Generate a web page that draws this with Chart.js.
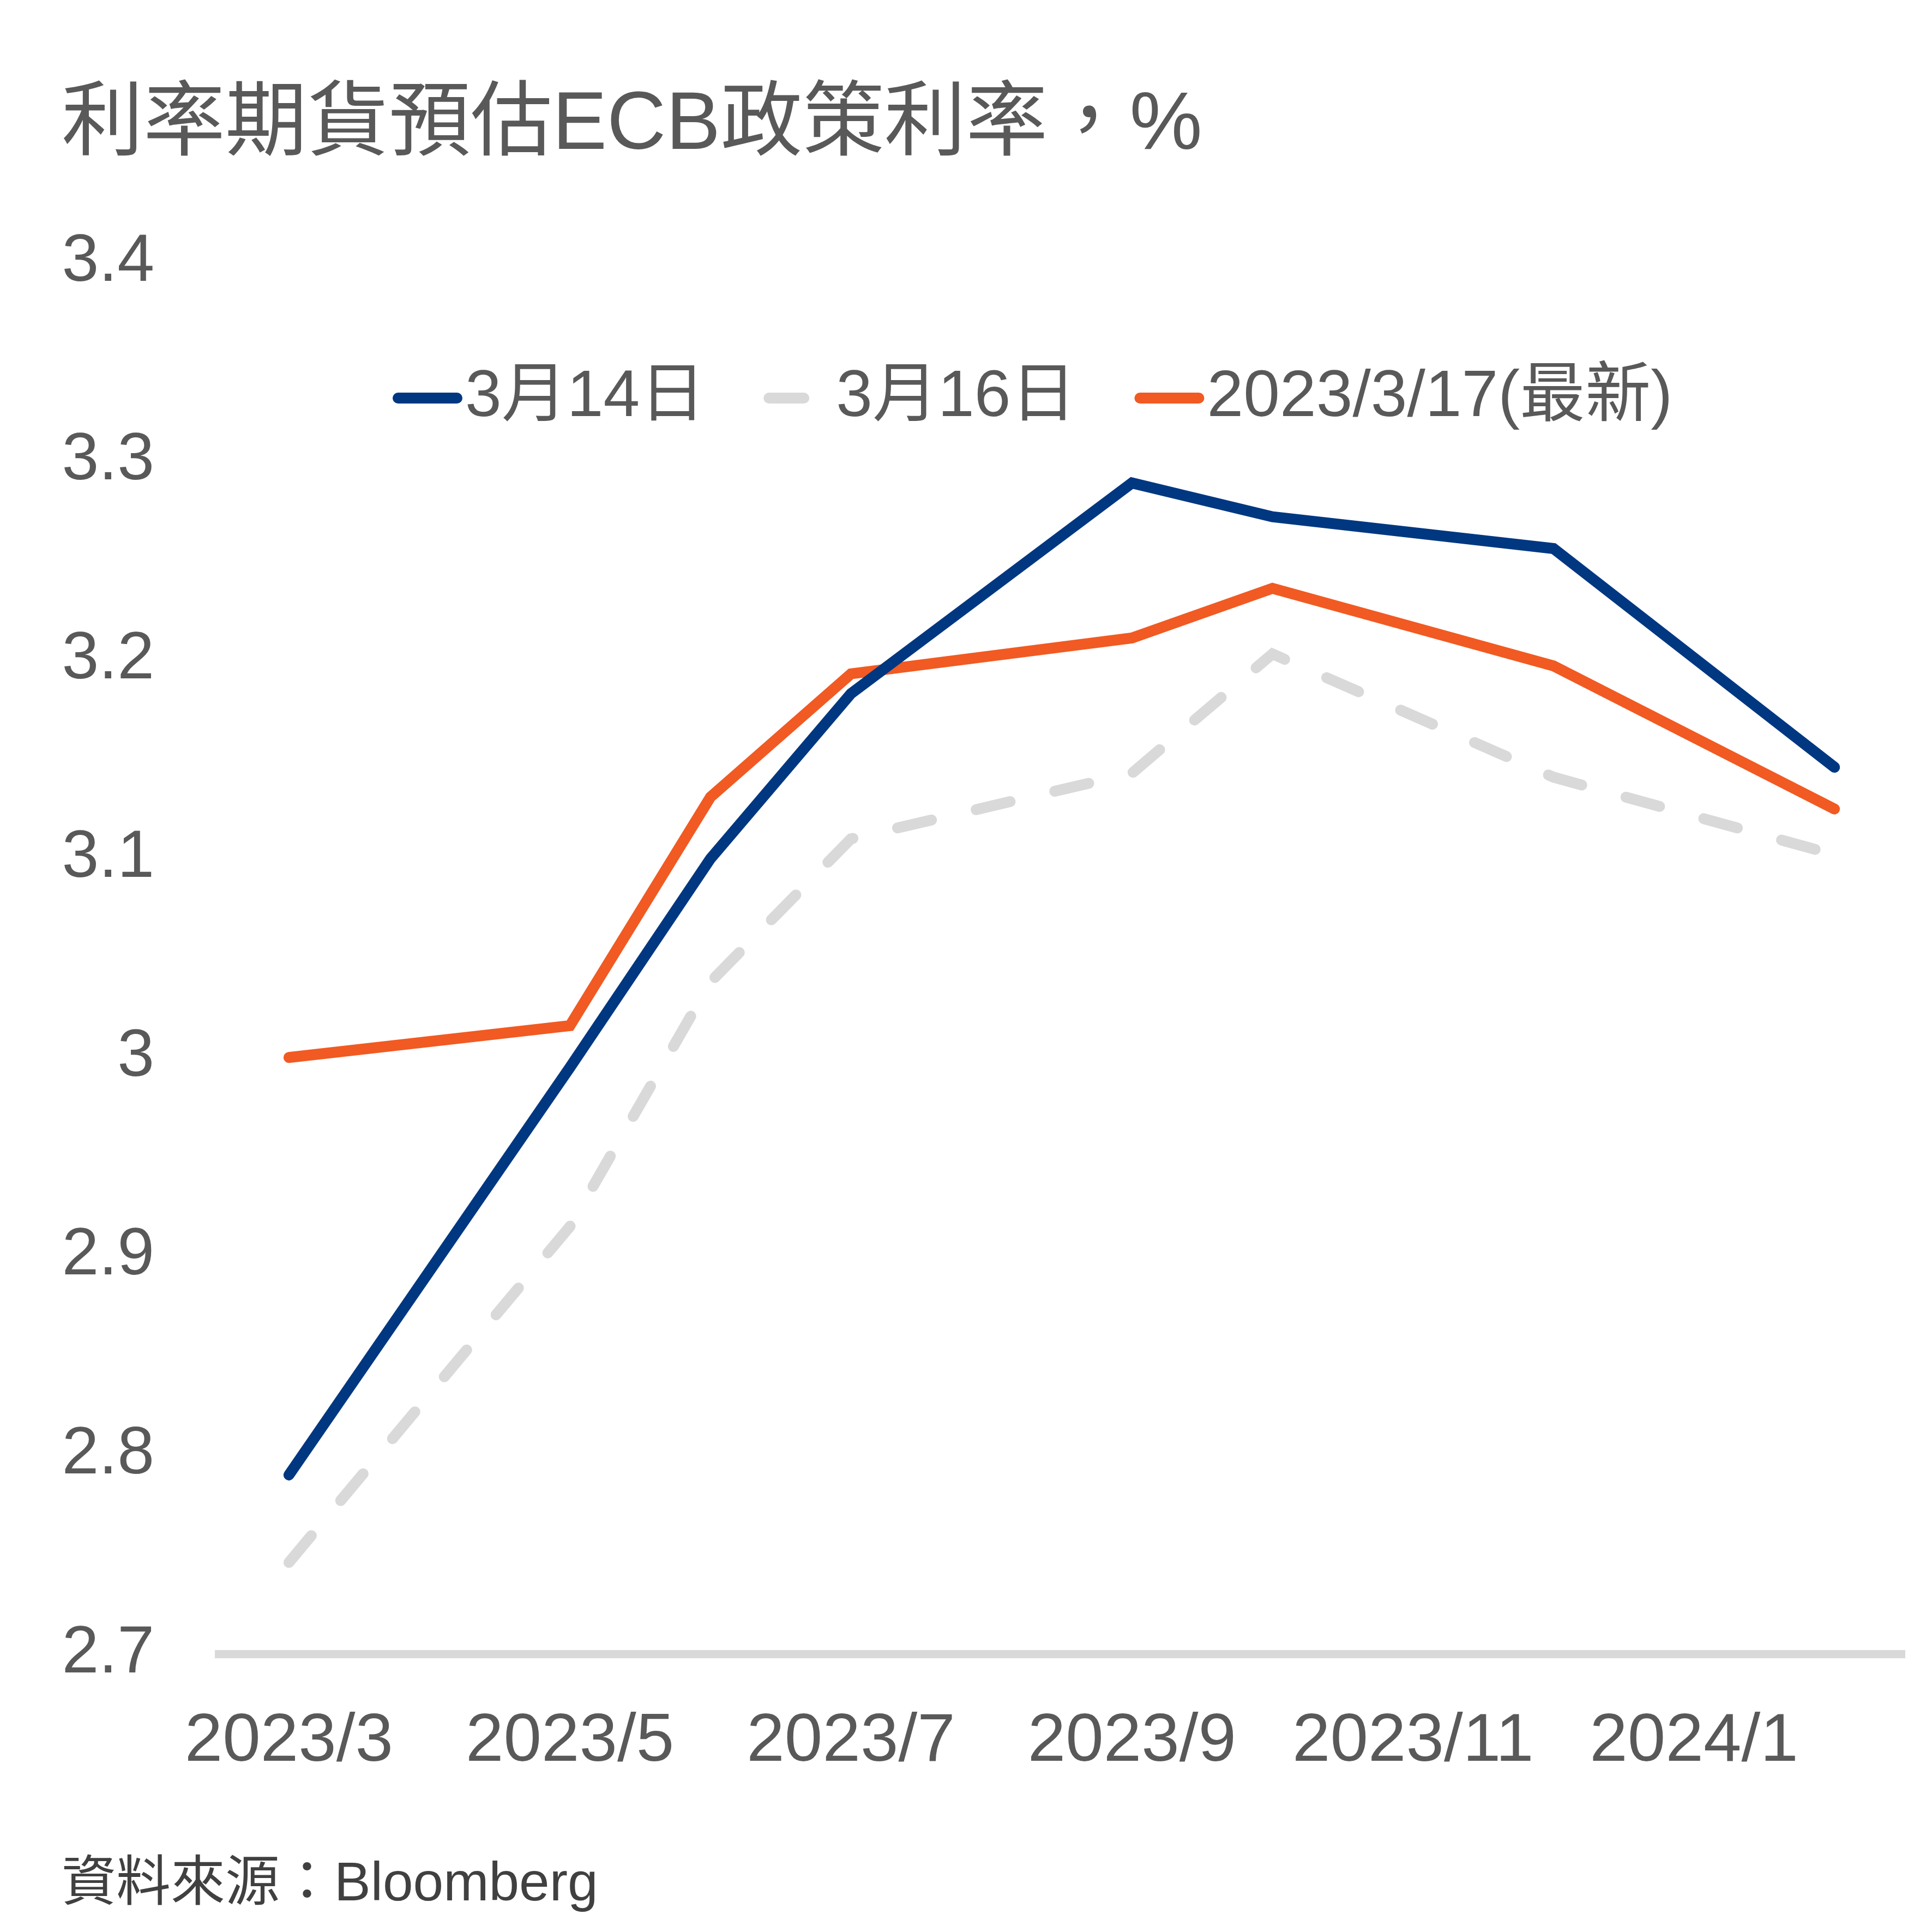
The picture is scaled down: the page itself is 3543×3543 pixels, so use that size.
<!DOCTYPE html>
<html><head><meta charset="utf-8">
<script src="https://cdn.jsdelivr.net/npm/chart.js@4.4.1/dist/chart.umd.min.js"></script>
<style>html,body{margin:0;padding:0;background:#fff;} #wrap{width:3543px;height:3543px;position:relative;}</style>
</head><body><div id="wrap"><canvas id="c"></canvas></div>
<script>
// ---- data ----
const months = ['2023/3','2023/4','2023/5','2023/6','2023/7','2023/8','2023/9','2023/10','2023/11','2023/12','2024/1','2024/2'];
const seriesNames = ['3月14日','3月16日','2023/3/17(最新)'];
const mar14 = [2.790, null, 2.995, 3.100, 3.183, null, 3.289, 3.272, null, 3.256, null, 3.146];
const mar16 = [2.746, null, 2.915, 3.038, 3.110, null, 3.143, 3.203, null, 3.141, null, 3.102];
const mar17 = [3.000, null, 3.016, 3.131, 3.193, null, 3.211, 3.236, null, 3.197, null, 3.125];
const titleText = '利率期貨預估ECB政策利率，%';
const sourceText = '資料來源：Bloomberg';

// ---- styles ----
const FONT = '"Liberation Sans", "Noto Sans CJK TC", sans-serif';
const TXT = '#595959';
const BLUE = '#003781', GRAY = '#D9D9D9', ORANGE = '#F15A22';
Chart.defaults.font.family = FONT;
Chart.defaults.color = TXT;

// legend drawn inside the plot area, in one row
const inlineLegend = {
  id: 'inlineLegend',
  afterDraw(chart) {
    const {ctx, chartArea} = chart;
    const fs = 120, lw = 20, lineLen = 108, dashLen = 64;
    ctx.save();
    ctx.font = 'normal ' + fs + 'px ' + FONT;
    ctx.textBaseline = 'middle';
    ctx.textAlign = 'left';
    const y = chartArea.top + 249;
    let x = chartArea.left + 329;
    chart.data.datasets.forEach(ds => {
      ctx.strokeStyle = ds.borderColor;
      ctx.lineWidth = lw; ctx.lineCap = 'round'; ctx.setLineDash([]);
      ctx.beginPath(); ctx.moveTo(x, y); ctx.lineTo(x + (ds.borderDash ? dashLen : lineLen), y); ctx.stroke();
      const tx = x + lineLen + lw / 2 + 5;
      ctx.fillStyle = TXT;
      ctx.fillText(ds.label, tx, y);
      x = tx + ctx.measureText(ds.label).width + 107 + lw / 2;
    });
    ctx.restore();
  }
};

const common = {borderWidth: 20, pointRadius: 0, pointHoverRadius: 0, spanGaps: true,
  borderCapStyle: 'round', borderJoinStyle: 'miter', tension: 0, fill: false};

new Chart(document.getElementById('c'), {
  type: 'line',
  data: {
    labels: months,
    datasets: [
      Object.assign({label: seriesNames[0], data: mar14, borderColor: BLUE, backgroundColor: BLUE}, common),
      Object.assign({label: seriesNames[1], data: mar16, borderColor: GRAY, backgroundColor: GRAY, borderDash: [64, 84]}, common),
      Object.assign({label: seriesNames[2], data: mar17, borderColor: ORANGE, backgroundColor: ORANGE}, common)
    ]
  },
  plugins: [inlineLegend],
  options: {
    responsive: true, maintainAspectRatio: false, animation: false, devicePixelRatio: 1,
    layout: {padding: {left: 113, right: 50, top: 0, bottom: 0}},
    plugins: {
      tooltip: {enabled: false},
      legend: {display: false},
      title: {display: true, text: titleText, align: 'start', color: TXT,
        font: {size: 150, weight: 'normal', lineHeight: 1.2}, padding: {top: 142, bottom: 159}},
      subtitle: {display: true, text: sourceText, position: 'bottom', align: 'start', color: '#404040',
        font: {size: 100, weight: 'normal', lineHeight: 1.2}, padding: {top: 40, bottom: 26}}
    },
    scales: {
      x: {
        type: 'category', offset: true,
        grid: {display: false, drawTicks: false},
        border: {display: true, color: '#D9D9D9', width: 15},
        ticks: {autoSkip: false, maxRotation: 0, color: TXT, font: {size: 125}, padding: 87,
          callback: (v, i) => (i % 2 === 0 ? months[i] : '')}
      },
      y: {
        min: 2.7, max: 3.4,
        grid: {display: false, drawTicks: false},
        border: {display: false},
        afterFit: s => { s.width = 288; },
        ticks: {stepSize: 0.1, color: TXT, font: {size: 122}, padding: 118,
          callback: v => String(Math.round(v * 10) / 10)}
      }
    }
  }
});
</script></body></html>
